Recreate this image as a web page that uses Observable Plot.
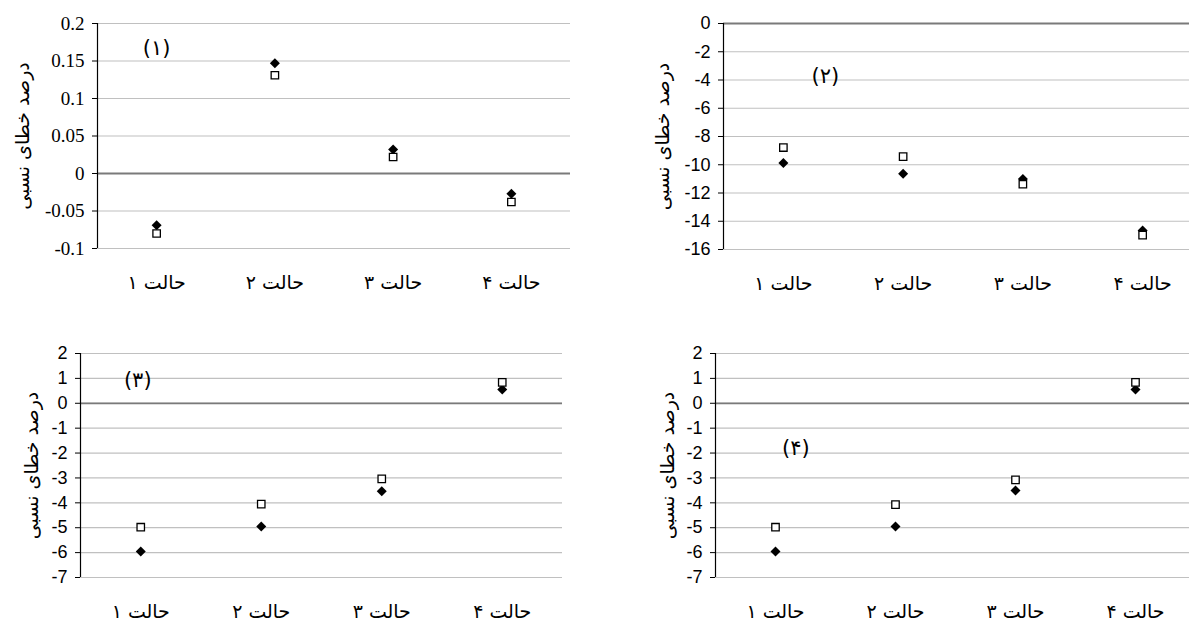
<!DOCTYPE html>
<html><head><meta charset="utf-8">
<script src="https://cdn.jsdelivr.net/npm/d3@7"></script>
<script src="https://cdn.jsdelivr.net/npm/@observablehq/plot@0.6"></script>
<style>
html,body{margin:0;padding:0;background:#fff;}
#wrap{position:relative;width:1189px;height:624px;overflow:hidden;background:#fff;}
.p{position:absolute;}
.p svg{max-width:none !important;}
</style></head><body><div id="wrap"></div>
<script>
// ---- data ----
const categories = ["حالت ۱", "حالت ۲", "حالت ۳", "حالت ۴"];
const yTitle = "درصد خطای نسبی";
const panelLabels = ["(۱)", "(۲)", "(۳)", "(۴)"];

const p1Diamond = [-0.069, 0.147, 0.032, -0.027];
const p1Square  = [-0.080, 0.131, 0.022, -0.038];
const p2Diamond = [-9.88, -10.63, -11.0, -14.65];
const p2Square  = [-8.78, -9.42, -11.38, -14.98];
const p3Diamond = [-5.96, -4.95, -3.53, 0.55];
const p3Square  = [-4.98, -4.05, -3.04, 0.84];
const p4Diamond = [-5.96, -4.95, -3.50, 0.55];
const p4Square  = [-4.98, -4.07, -3.08, 0.84];

const p1Ticks = [0.2, 0.15, 0.1, 0.05, 0, -0.05, -0.1];
const p2Ticks = [0, -2, -4, -6, -8, -10, -12, -14, -16];
const p34Ticks = [2, 1, 0, -1, -2, -3, -4, -5, -6, -7];

// ---- layout / style ----
const PERSIAN = "DejaVu Sans";
const panels = [
  {left: 0, top: 0, width: 590, height: 310, ml: 97, mr: 20, mt: 23, mb: 62,
   domain: [-0.1, 0.2], ticks: p1Ticks, diamond: p1Diamond, square: p1Square,
   tickFont: "Liberation Serif", tickSize: 19, label: panelLabels[0], lx: 1.0, ly: 0.167, titleDx: -75},
  {left: 600, top: 0, width: 602, height: 310, ml: 123, mr: 0, mt: 23, mb: 61,
   domain: [-16, 0], ticks: p2Ticks, diamond: p2Diamond, square: p2Square,
   tickFont: "Liberation Sans", tickSize: 18, label: panelLabels[1], lx: 1.35, ly: -3.76, titleDx: -61},
  {left: 0, top: 330, width: 590, height: 294, ml: 80, mr: 28, mt: 23, mb: 47,
   domain: [-7, 2], ticks: p34Ticks, diamond: p3Diamond, square: p3Square,
   tickFont: "Liberation Sans", tickSize: 18, label: panelLabels[2], lx: 0.975, ly: 0.91, titleDx: -49},
  {left: 600, top: 330, width: 600, height: 294, ml: 115, mr: 5, mt: 23, mb: 47,
   domain: [-7, 2], ticks: p34Ticks, diamond: p4Diamond, square: p4Square,
   tickFont: "Liberation Sans", tickSize: 18, label: panelLabels[3], lx: 1.17, ly: -1.82, titleDx: -48}
];

const rows = vals => vals.map((v, i) => ({x: i + 1, y: v}));
const wrap = document.getElementById("wrap");

for (const cfg of panels) {
  const chart = Plot.plot({
    width: cfg.width, height: cfg.height,
    marginLeft: cfg.ml, marginRight: cfg.mr, marginTop: cfg.mt, marginBottom: cfg.mb,
    x: {domain: [0.5, 4.5], axis: null},
    y: {domain: cfg.domain, axis: null},
    style: {background: "transparent", overflow: "visible", maxWidth: "none"},
    marks: [
      Plot.ruleY(cfg.ticks, {stroke: "#c0c0c0", strokeWidth: 1.2}),
      Plot.ruleY([0], {stroke: "#7a7a7a", strokeWidth: 1.8}),
      Plot.ruleX([0.5], {stroke: "#000", strokeWidth: 1.2}),
      Plot.axisY(cfg.ticks, {anchor: "left", tickSize: 5, tickPadding: 8, label: null,
        tickFormat: d => String(d), fontSize: cfg.tickSize, fontFamily: cfg.tickFont, stroke: "#000", fill: "#000"}),
      Plot.axisX([1, 2, 3, 4], {anchor: "bottom", tickSize: 0, tickPadding: 27, label: null,
        tickFormat: d => categories[d - 1], fontSize: 19, fontFamily: PERSIAN, fill: "#000"}),
      Plot.text([yTitle], {frameAnchor: "left", textAnchor: "middle", rotate: -90, dx: cfg.titleDx,
        fontSize: 19, fontFamily: PERSIAN, fill: "#000"}),
      Plot.text([cfg.label], {x: () => cfg.lx, y: () => cfg.ly, fontSize: 21, fontFamily: PERSIAN, fill: "#000"}),
      Plot.dot(rows(cfg.diamond), {x: "x", y: "y", symbol: "diamond2", r: 4.5, fill: "#000", stroke: "none"}),
      Plot.dot(rows(cfg.square), {x: "x", y: "y", symbol: "square", r: 4.2, fill: "#fff", stroke: "#000", strokeWidth: 1.3})
    ]
  });
  chart.style.maxWidth = "none";
  const div = document.createElement("div");
  div.className = "p";
  div.style.left = cfg.left + "px";
  div.style.top = cfg.top + "px";
  div.style.width = cfg.width + "px";
  div.style.height = cfg.height + "px";
  div.appendChild(chart);
  wrap.appendChild(div);
}
</script></body></html>
